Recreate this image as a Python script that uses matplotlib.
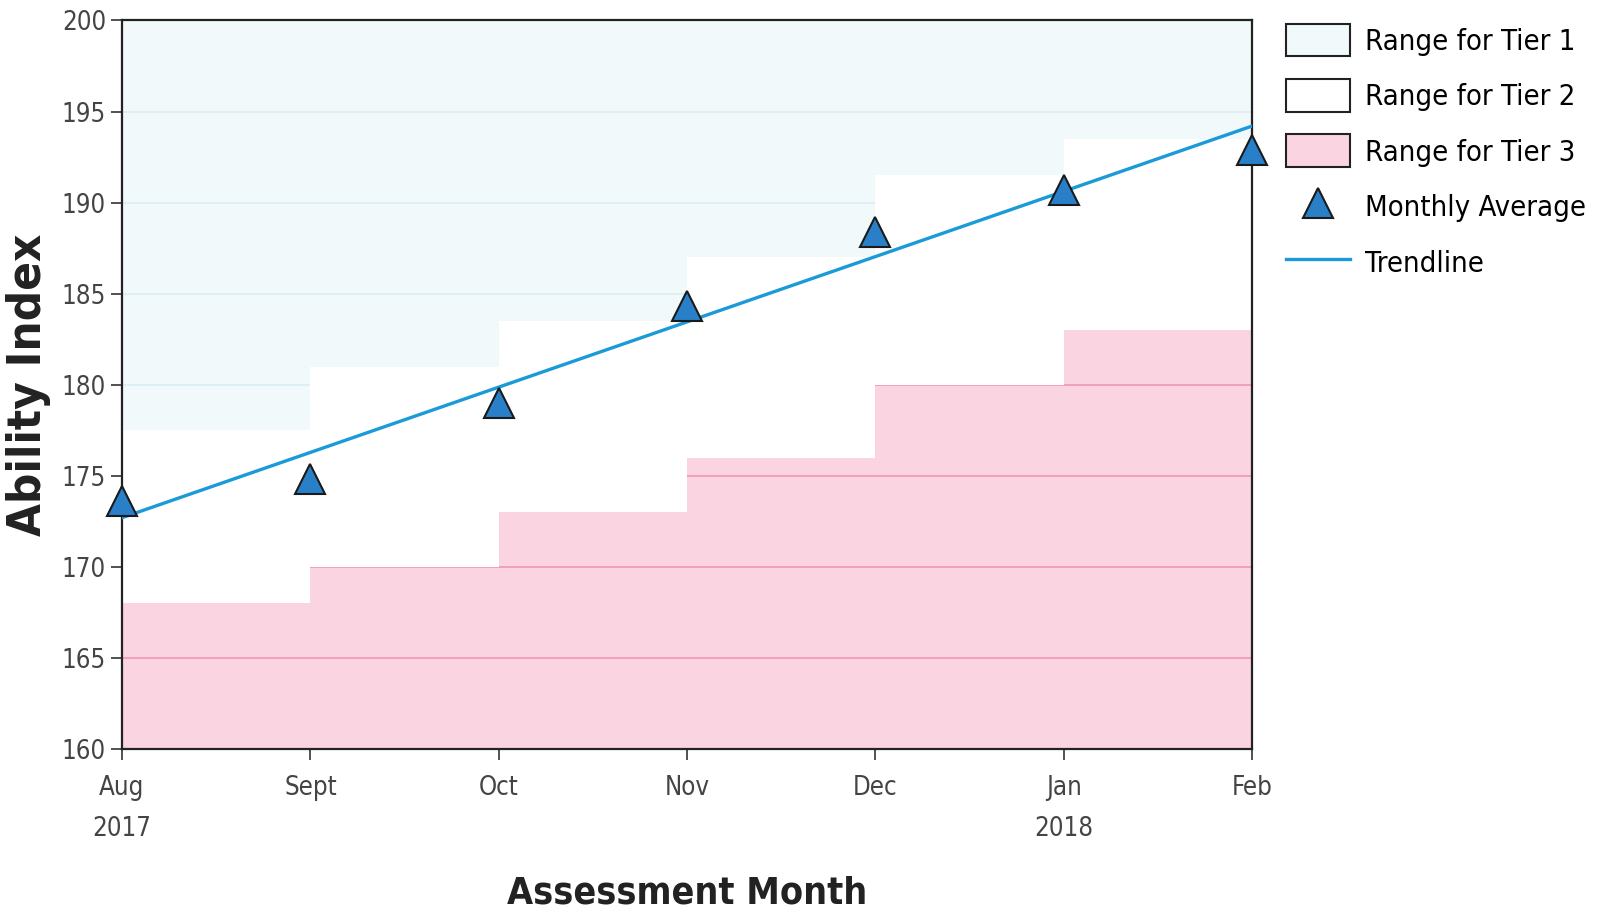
import numpy as np
import matplotlib.pyplot as plt
from matplotlib.patches import Patch
from matplotlib.lines import Line2D

# data
months = ['Aug\n2017', 'Sept', 'Oct', 'Nov', 'Dec', 'Jan\n2018', 'Feb']
monthly_avg = [173.6, 174.8, 179.0, 184.3, 188.4, 190.7, 192.9]
trend_ends = [172.7, 194.2]
tier3_top = [168, 170, 173, 176, 180, 183]        # step held until next month
tier1_bottom = [177.5, 181, 183.5, 187, 191.5, 193.5]
y_ticks = [160, 165, 170, 175, 180, 185, 190, 195, 200]

plt.rcParams['font.family'] = ['DejaVu Sans']
plt.rcParams['font.stretch'] = 'condensed'

fig = plt.figure(figsize=(15.97, 9.16), dpi=100)
ax = fig.add_axes([0.0764, 0.1823, 0.7076, 0.7954])

x = np.arange(len(months))
ax.set_xlim(0, 6)
ax.set_ylim(160, 200)

t3 = tier3_top + [tier3_top[-1]]
t1 = tier1_bottom + [tier1_bottom[-1]]
pink = ax.fill_between(x, 160, t3, step='post', color='#fbd4e1', lw=0, zorder=1)
blue = ax.fill_between(x, t1, 200, step='post', color='#f1f9fb', lw=0, zorder=1)

# grid lines only show inside the tinted bands
for yv in y_ticks[1:-1]:
    ln = ax.axhline(yv, color='#f09cb8', lw=1.3, zorder=1.5)
    ln.set_clip_path(pink.get_paths()[0], ax.transData)
    ln2 = ax.axhline(yv, color='#dbeef4', lw=1.3, zorder=1.5)
    ln2.set_clip_path(blue.get_paths()[0], ax.transData)

ax.plot([0, 6], trend_ends, color='#1b9ad8', lw=2.4, zorder=3)
ax.plot(x, monthly_avg, linestyle='none', marker='^', markersize=21,
        markerfacecolor='#2a80c8', markeredgecolor='#1a1a1a', markeredgewidth=1.5,
        zorder=4, clip_on=False)

ax.set_xticks(x)
ax.set_xticklabels(months, linespacing=1.75)
ax.set_yticks(y_ticks)
ax.tick_params(axis='both', direction='out', length=8, width=1.2,
               labelsize=18.5, labelcolor='#444444', color='#333333')
ax.tick_params(axis='x', pad=11)
for sp in ax.spines.values():
    sp.set_color('#222222')
    sp.set_linewidth(1.6)

ax.set_xlabel('Assessment Month', fontsize=27, fontweight='bold', color='#222222',
              labelpad=24)
ax.set_ylabel('Ability Index', fontsize=34, fontweight='bold', color='#222222',
              labelpad=8)

handles = [
    Patch(facecolor='#f1f9fb', edgecolor='#222222', lw=1.5),
    Patch(facecolor='white', edgecolor='#222222', lw=1.5),
    Patch(facecolor='#fbd4e1', edgecolor='#222222', lw=1.5),
    Line2D([], [], linestyle='none', marker='^', markersize=21,
           markerfacecolor='#2a80c8', markeredgecolor='#1a1a1a', markeredgewidth=1.5),
    Line2D([], [], color='#1b9ad8', lw=2.4),
]
labels = ['Range for Tier 1', 'Range for Tier 2', 'Range for Tier 3',
          'Monthly Average', 'Trendline']
fig.legend(handles, labels, loc='upper left', bbox_to_anchor=(0.789, 1.003),
           frameon=False, fontsize=21, handlelength=2.2, handleheight=1.35,
           labelspacing=0.78, handletextpad=0.5)

fig.savefig('out.png', dpi=100)
